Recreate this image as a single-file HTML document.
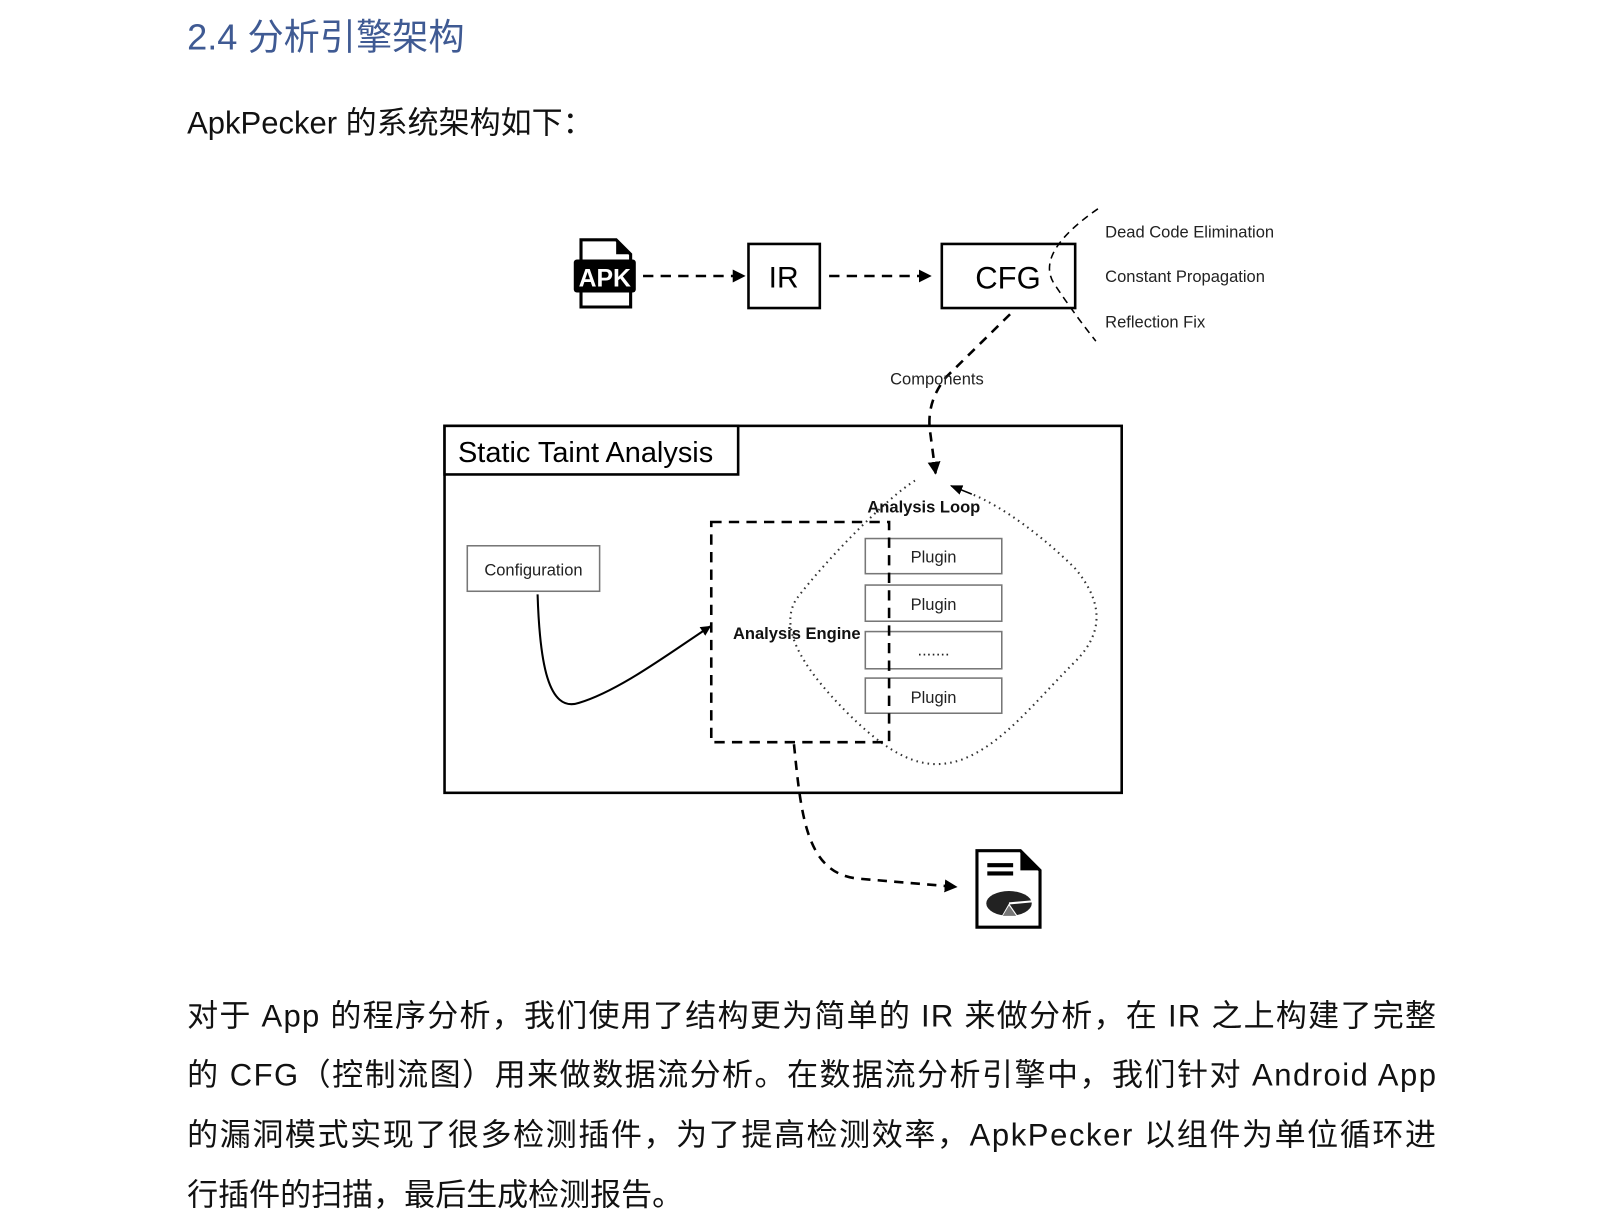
<!DOCTYPE html>
<html><head><meta charset="utf-8"><style>
html,body{margin:0;padding:0;background:#fff;width:1620px;height:1228px;overflow:hidden}
svg{display:block}
.cj{font-family:"Liberation Sans","Noto Sans CJK SC",sans-serif}
.ar{font-family:"Liberation Sans",sans-serif}
</style></head><body>
<svg width="1620" height="1228" viewBox="0 0 1567 1188" preserveAspectRatio="none" xmlns="http://www.w3.org/2000/svg">
<defs>
<marker id="ah" viewBox="0 0 10 10" refX="9" refY="5" markerWidth="5" markerHeight="5" orient="auto"><path d="M0,0 L10,5 L0,10 z" fill="#000"/></marker>
<marker id="ahs" viewBox="0 0 10 10" refX="9" refY="5" markerWidth="8" markerHeight="8" orient="auto"><path d="M0,1 L10,5 L0,9 z" fill="#000"/></marker>
</defs>
<text x="181" y="48" class="cj" font-size="35" fill="#3f5a93">2.4 分析引擎架构</text>
<text x="181" y="129" class="cj" font-size="30" fill="#111">ApkPecker 的系统架构如下：</text>

<path d="M562,232 H596 L610,246 V297 H562 Z" fill="#fff" stroke="#000" stroke-width="3"/>
<path d="M596,232 V246 H610 Z" fill="#000"/>
<rect x="555" y="251" width="60" height="32" rx="3" fill="#000"/>
<text x="585" y="277" text-anchor="middle" class="ar" font-size="24" font-weight="bold" fill="#fff">APK</text>
<line x1="622" y1="267" x2="720" y2="267" stroke="#000" stroke-width="2.5" stroke-dasharray="10,7" marker-end="url(#ah)"/>
<rect x="724" y="236" width="69" height="62" fill="#fff" stroke="#000" stroke-width="2.5"/>
<text x="758" y="278" text-anchor="middle" class="ar" font-size="29">IR</text>
<line x1="802" y1="267" x2="900" y2="267" stroke="#000" stroke-width="2.5" stroke-dasharray="10,7" marker-end="url(#ah)"/>
<rect x="911" y="236" width="129" height="62" fill="#fff" stroke="#000" stroke-width="2.5"/>
<text x="975" y="279" text-anchor="middle" class="ar" font-size="30">CFG</text>
<path d="M1062,202 Q1000,245 1020,275 Q1040,305 1060,330" fill="none" stroke="#000" stroke-width="1.5" stroke-dasharray="7,5"/>
<text x="1069" y="230" class="ar" font-size="16" fill="#222">Dead Code Elimination</text>
<text x="1069" y="273" class="ar" font-size="16" fill="#222">Constant Propagation</text>
<text x="1069" y="317" class="ar" font-size="16" fill="#222">Reflection Fix</text>
<path d="M977,304 L915,365 Q895,390 900,420 L905,458" fill="none" stroke="#000" stroke-width="2.5" stroke-dasharray="9,7" marker-end="url(#ah)"/>
<text x="861" y="372" class="ar" font-size="16" fill="#222">Components</text>

<rect x="430" y="412" width="655" height="355" fill="none" stroke="#000" stroke-width="2.5"/>
<rect x="430" y="412" width="284" height="47" fill="#fff" stroke="#000" stroke-width="2.5"/>
<text x="443" y="447" class="ar" font-size="28">Static Taint Analysis</text>
<rect x="452" y="528" width="128" height="44" fill="#fff" stroke="#777" stroke-width="1.5"/>
<text x="516" y="557" text-anchor="middle" class="ar" font-size="16" fill="#222">Configuration</text>
<path d="M520,575 C522,640 530,690 560,680 C600,668 650,630 687,606" fill="none" stroke="#000" stroke-width="2" marker-end="url(#ah)"/>

<path d="M885,465 C860,480 800,540 770,580 C755,605 770,640 820,690 C870,740 900,745 930,735 C970,720 1000,680 1040,640 C1070,610 1065,580 1040,550 C1010,520 970,490 940,478" fill="none" stroke="#333" stroke-width="2" stroke-dasharray="1.5,4"/>
<path d="M940,478 L920,470" stroke="#000" stroke-width="1.5" marker-end="url(#ahs)"/>
<text x="839" y="496" class="ar" font-size="16" font-weight="bold" fill="#111">Analysis Loop</text>
<rect x="837" y="521" width="132" height="34" fill="#fff" stroke="#777" stroke-width="1.5"/>
<rect x="837" y="566" width="132" height="35" fill="#fff" stroke="#777" stroke-width="1.5"/>
<rect x="837" y="611" width="132" height="36" fill="#fff" stroke="#777" stroke-width="1.5"/>
<rect x="837" y="656" width="132" height="34" fill="#fff" stroke="#777" stroke-width="1.5"/>
<text x="903" y="544" text-anchor="middle" class="ar" font-size="16" fill="#222">Plugin</text>
<text x="903" y="590" text-anchor="middle" class="ar" font-size="16" fill="#222">Plugin</text>
<text x="903" y="634" text-anchor="middle" class="ar" font-size="16" fill="#222">.......</text>
<text x="903" y="680" text-anchor="middle" class="ar" font-size="16" fill="#222">Plugin</text>
<rect x="688" y="505" width="172" height="213" fill="none" stroke="#000" stroke-width="2.5" stroke-dasharray="10,7"/>
<text x="709" y="618" class="ar" font-size="16" font-weight="bold" fill="#111">Analysis Engine</text>
<path d="M768,720 C775,790 780,845 830,850 L925,858" fill="none" stroke="#000" stroke-width="2.5" stroke-dasharray="9,7" marker-end="url(#ah)"/>

<path d="M945,823 H987 L1006,842 V897 H945 Z" fill="#fff" stroke="#000" stroke-width="3"/>
<path d="M987,823 V842 H1006 Z" fill="#000"/>
<rect x="955" y="835" width="25" height="4" fill="#000"/>
<rect x="955" y="843" width="25" height="4" fill="#000"/>
<ellipse cx="976" cy="874" rx="22" ry="12" fill="#222"/>
<path d="M976,874 L968,888 L985,887 Z" fill="#fff"/>
<path d="M976,876 L970,886 L983,886 Z" fill="#777"/>
<path d="M976,874 L998,872" stroke="#fff" stroke-width="2"/>

<g class="cj" font-size="30" fill="#111">
<text x="181" y="993" textLength="1208" lengthAdjust="spacing">对于 App 的程序分析，我们使用了结构更为简单的 IR 来做分析，在 IR 之上构建了完整</text>
<text x="181" y="1050" textLength="1208" lengthAdjust="spacing">的 CFG（控制流图）用来做数据流分析。在数据流分析引擎中，我们针对 Android App</text>
<text x="181" y="1108" textLength="1208" lengthAdjust="spacing">的漏洞模式实现了很多检测插件，为了提高检测效率，ApkPecker 以组件为单位循环进</text>
<text x="181" y="1166">行插件的扫描，最后生成检测报告。</text>
</g>
</svg>
</body></html>
